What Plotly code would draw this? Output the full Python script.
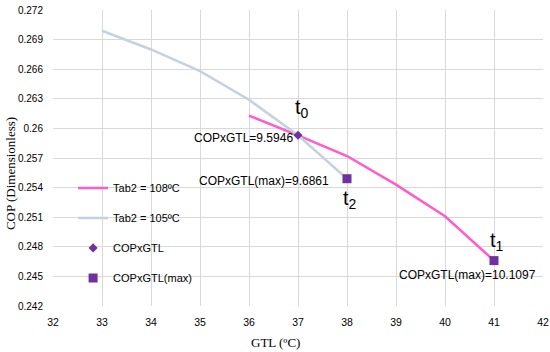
import plotly.graph_objects as go

gtl_105 = [33, 34, 35, 36, 37, 38]
cop_105 = [0.2699, 0.2680, 0.2658, 0.2629, 0.2593, 0.2549]
gtl_108 = [36, 37, 38, 39, 40, 41]
cop_108 = [0.2613, 0.2593, 0.2572, 0.2543, 0.2511, 0.2466]
diam_x = [37]
diam_y = [0.2593]
sq_x = [38, 41]
sq_y = [0.2549, 0.2466]
y_ticks = [0.242, 0.245, 0.248, 0.251, 0.254, 0.257, 0.26, 0.263, 0.266, 0.269, 0.272]
y_tick_text = ["0.242", "0.245", "0.248", "0.251", "0.254", "0.257", "0.26", "0.263", "0.266", "0.269", "0.272"]
x_ticks = [32, 33, 34, 35, 36, 37, 38, 39, 40, 41, 42]

PINK = "#ff5ccb"
BLUE = "#c5d2de"
PURPLE = "#7030a0"
SANS = "Liberation Sans"
SERIF = "Liberation Serif"

fig = go.Figure()
fig.add_trace(go.Scatter(x=gtl_108, y=cop_108, mode="lines", name="Tab2 = 108ºC",
                         line=dict(color=PINK, width=2.5), legendgroup="a"))
fig.add_trace(go.Scatter(x=gtl_105, y=cop_105, mode="lines", name="Tab2 = 105ºC",
                         line=dict(color=BLUE, width=2.5), legendgroup="b"))
fig.add_trace(go.Scatter(x=diam_x, y=diam_y, mode="markers", name="COPxGTL",
                         marker=dict(symbol="diamond", color=PURPLE, size=7), legendgroup="c"))
fig.add_trace(go.Scatter(x=sq_x, y=sq_y, mode="markers", name="COPxGTL(max)",
                         marker=dict(symbol="square", color=PURPLE, size=9), legendgroup="d"))

ann_font = dict(family=SANS, size=12, color="#000")
big_font = dict(family=SANS, size=20, color="#000")
annotations = [
    dict(x=37, y=diam_y[0], text="COPxGTL=9.5946", xanchor="right", yanchor="middle",
         xshift=-3, yshift=-3, showarrow=False, font=ann_font),
    dict(x=37, y=diam_y[0], text="t<sub>0</sub>", xanchor="center", yanchor="middle",
         xshift=4, yshift=27, showarrow=False, font=big_font),
    dict(x=38, y=sq_y[0], text="COPxGTL(max)=9.6861", xanchor="right", yanchor="middle",
         xshift=-16, yshift=-2, showarrow=False, font=ann_font),
    dict(x=38, y=sq_y[0], text="t<sub>2</sub>", xanchor="center", yanchor="middle",
         xshift=3, yshift=-21, showarrow=False, font=big_font),
    dict(x=41, y=sq_y[1], text="t<sub>1</sub>", xanchor="center", yanchor="middle",
         xshift=3, yshift=19, showarrow=False, font=big_font),
    dict(x=41, y=sq_y[1], text="COPxGTL(max)=10.1097", xanchor="center", yanchor="middle",
         xshift=-27, yshift=-14, showarrow=False, font=ann_font),
    dict(xref="paper", yref="paper", x=0.455, y=-0.122, text="GTL (ºC)", xanchor="center",
         yanchor="middle", showarrow=False, font=dict(family=SERIF, size=13, color="#000")),
    dict(xref="paper", yref="paper", x=-0.0878, y=0.449, text="COP (Dimensionless)", textangle=-90,
         xanchor="center", yanchor="middle", showarrow=False,
         font=dict(family=SERIF, size=13, color="#000")),
]

fig.update_layout(
    width=550, height=352,
    margin=dict(l=53, r=7, t=10, b=46, autoexpand=False),
    paper_bgcolor="white", plot_bgcolor="white",
    showlegend=True,
    legend=dict(x=0.041, y=0.448, xanchor="left", yanchor="top",
                bgcolor="rgba(255,255,255,0)", font=dict(family=SANS, size=11, color="#000"),
                tracegroupgap=11, itemwidth=30),
    annotations=annotations,
    xaxis=dict(range=[32, 42], tickvals=x_ticks, showgrid=True, gridcolor="#d9d9d9",
               gridwidth=1, zeroline=False, showline=False, ticks="", automargin=False,
               ticklabeloverflow="allow", ticklabelstandoff=8,
               tickfont=dict(family=SANS, size=10.5, color="#000")),
    yaxis=dict(range=[0.242, 0.272], tickvals=y_ticks, ticktext=y_tick_text, showgrid=True,
               gridcolor="#d9d9d9", gridwidth=1, zeroline=False, showline=False, ticks="",
               automargin=False, ticklabelstandoff=9, ticklabeloverflow="allow",
               tickfont=dict(family=SANS, size=10, color="#000")),
)

# remove the page's default 8px body margin so the figure fills the window exactly
fig.write_html("out.html", config={"displayModeBar": False},
               post_script="document.body.style.margin='0';")
